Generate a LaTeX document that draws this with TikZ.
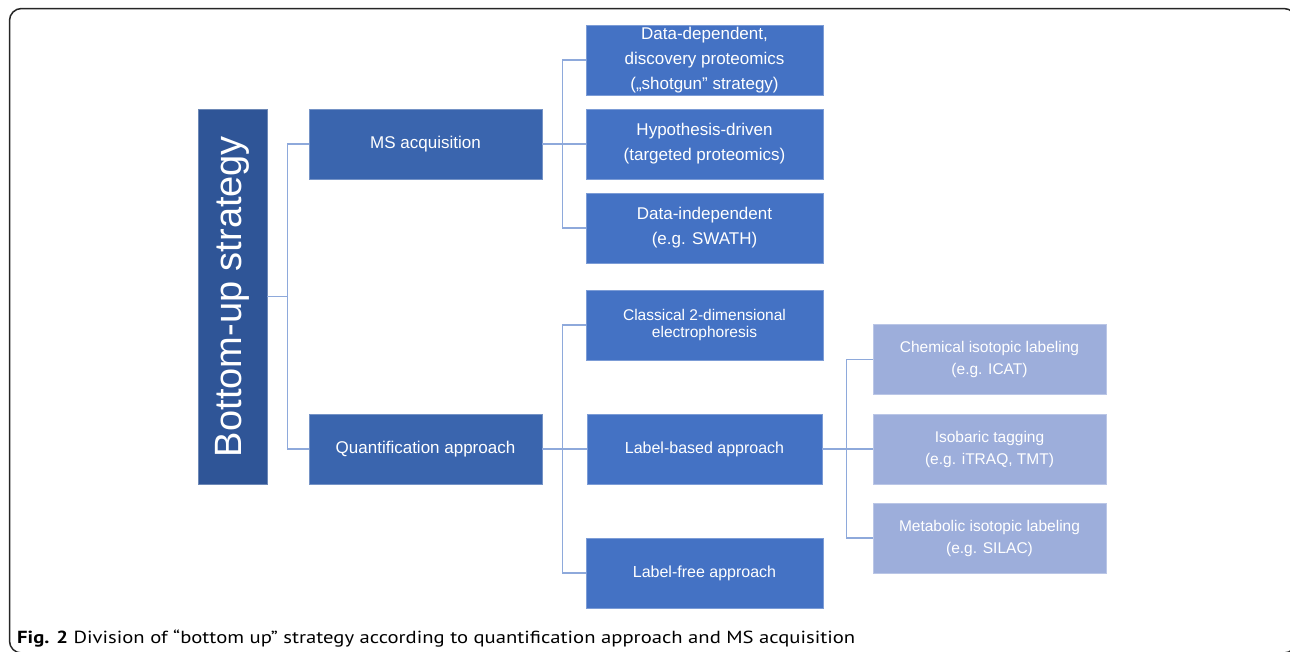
\documentclass[tikz,border=0pt]{standalone}
\usepackage{fontspec}
\usepackage{graphicx}
\setmainfont{Liberation Sans}
\newfontfamily\capfont{PT Sans}
\definecolor{czero}{HTML}{2F5597}
\definecolor{cone}{HTML}{3A65AE}
\definecolor{ctwo}{HTML}{4472C4}
\definecolor{cthree}{HTML}{9DAEDB}
\definecolor{cconn}{HTML}{8EA9DB}
\tikzset{
  boxbase/.style={rectangle, inner sep=2pt, minimum height=70pt, text=white, align=center, line width=0.6pt},
  rootbox/.style={boxbase, fill=czero, draw=czero!70!white, minimum width=69pt, minimum height=375pt},
  lvlone/.style={boxbase, fill=cone, draw=cone!70!white, minimum width=233pt, font=\fontsize{17}{24}\selectfont},
  lvltwo/.style={boxbase, fill=ctwo, draw=ctwo!70!white, minimum width=237pt, font=\fontsize{17}{25}\selectfont},
  lvlthree/.style={boxbase, fill=cthree, draw=cthree!70!white, minimum width=233pt, font=\fontsize{15.5}{22}\selectfont},
  conn/.style={draw=cconn, line width=1.5pt},
}
\begin{document}
\begin{tikzpicture}[x=1pt,y=-1pt]
\useasboundingbox (0,0) rectangle (1290,651);
\clip (0,0) rectangle (1290,651);
\draw[line width=1.5pt, rounded corners=12pt, draw=black!85] (9.5,8.5) rectangle (1296,653);

% root
\node[rootbox] (root) at (232.5,296.5) {};
\node[rotate=90, text=white, inner sep=0, font=\fontsize{38}{38}\selectfont] (rootlabel) at (root.center) {Bottom-up strategy};

% level one
\node[lvlone] (ms) at (425.5,144) {MS acquisition};
\node[lvlone] (quant) at (425.5,449) {Quantification approach};

% level two, top group
\node[lvltwo] (dd) at (704.5,60) {Data-dependent,\\discovery proteomics\\(„shotgun” strategy)};
\node[lvltwo] (hd) at (704.5,144) {Hypothesis-driven\\(targeted proteomics)};
\node[lvltwo] (di) at (704.5,228) {Data-independent\\(e.g. SWATH)};

% level two, bottom group
\node[lvltwo, font=\fontsize{15.5}{16.5}\selectfont] (cl) at (704.5,325) {Classical 2-dimensional\\electrophoresis};
\node[lvltwo, minimum width=235pt, font=\fontsize{16}{20}\selectfont] (lb) at (704.5,449) {Label-based approach};
\node[lvltwo, font=\fontsize{16}{20}\selectfont] (lf) at (704.5,573) {Label-free approach};

% level three
\node[lvlthree] (chem) at (989.5,359.5) {Chemical isotopic labeling\\(e.g. ICAT)};
\node[lvlthree] (iso) at (989.5,449) {Isobaric tagging\\(e.g. iTRAQ, TMT)};
\node[lvlthree] (meta) at (989.5,538) {Metabolic isotopic labeling\\(e.g. SILAC)};

% connectors
\draw[conn] (root.east) -- ++(21,0);
\draw[conn] (ms.west) -- ++(-21,0) |- (quant.west);
\draw[conn] (ms.east) -- (hd.west);
\draw[conn] (dd.west) -- ++(-23,0) |- (di.west);
\draw[conn] (quant.east) -- (lb.west);
\draw[conn] (cl.west) -- ++(-23,0) |- (lf.west);
\draw[conn] (lb.east) -- (iso.west);
\draw[conn] (chem.west) -- ++(-26,0) |- (meta.west);

% caption
\node[anchor=base west, inner sep=0] (caption) at (17,643) {\resizebox{838pt}{\height}{\capfont\fontsize{17.5}{20}\selectfont\textbf{Fig. 2} Division of “bottom up” strategy according to quantification approach and MS acquisition}};
\end{tikzpicture}
\end{document}
